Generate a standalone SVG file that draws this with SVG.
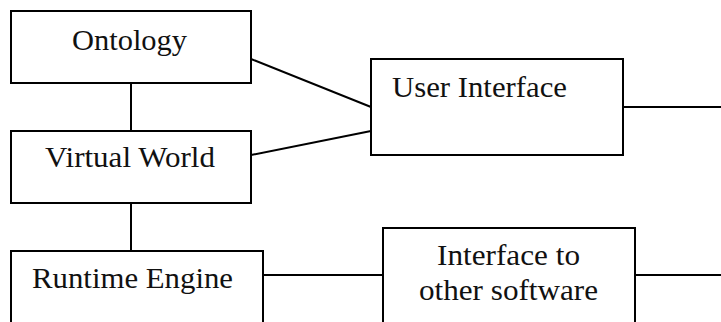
<svg xmlns="http://www.w3.org/2000/svg" width="721" height="322" viewBox="0 0 721 322">
<style>
.box{fill:#fff;stroke:#000;stroke-width:2}
.ln{stroke:#000;stroke-width:2;fill:none}
text{font-family:"Liberation Serif","Times New Roman",serif;font-size:29px;fill:#111}
</style>
<rect width="721" height="322" fill="#fff"/>
<g id="connectors">
<line class="ln" x1="131" y1="83" x2="131" y2="131"/>
<line class="ln" x1="131" y1="203" x2="131" y2="251"/>
<line class="ln" x1="251" y1="59" x2="371" y2="107"/>
<line class="ln" x1="251" y1="155" x2="371" y2="131"/>
<line class="ln" x1="623" y1="107" x2="721" y2="107"/>
<line class="ln" x1="263" y1="275" x2="383" y2="275"/>
<line class="ln" x1="635" y1="275" x2="721" y2="275"/>
</g>
<g id="ontology">
<rect class="box" x="11" y="11" width="240" height="72"/>
<text x="72" y="50" textLength="115" lengthAdjust="spacingAndGlyphs">Ontology</text>
</g>
<g id="virtual-world">
<rect class="box" x="11" y="131" width="240" height="72"/>
<text x="45" y="167" textLength="170" lengthAdjust="spacingAndGlyphs">Virtual World</text>
</g>
<g id="user-interface">
<rect class="box" x="371" y="59" width="252" height="96"/>
<text x="392" y="97" textLength="175" lengthAdjust="spacingAndGlyphs">User Interface</text>
</g>
<g id="runtime-engine">
<rect class="box" x="11" y="251" width="252" height="80"/>
<text x="32" y="288" textLength="201" lengthAdjust="spacingAndGlyphs">Runtime Engine</text>
</g>
<g id="interface-other">
<rect class="box" x="383" y="228" width="252" height="104"/>
<text x="437" y="265" textLength="143" lengthAdjust="spacingAndGlyphs">Interface to</text>
<text x="419" y="300" textLength="179" lengthAdjust="spacingAndGlyphs">other software</text>
</g>
</svg>
